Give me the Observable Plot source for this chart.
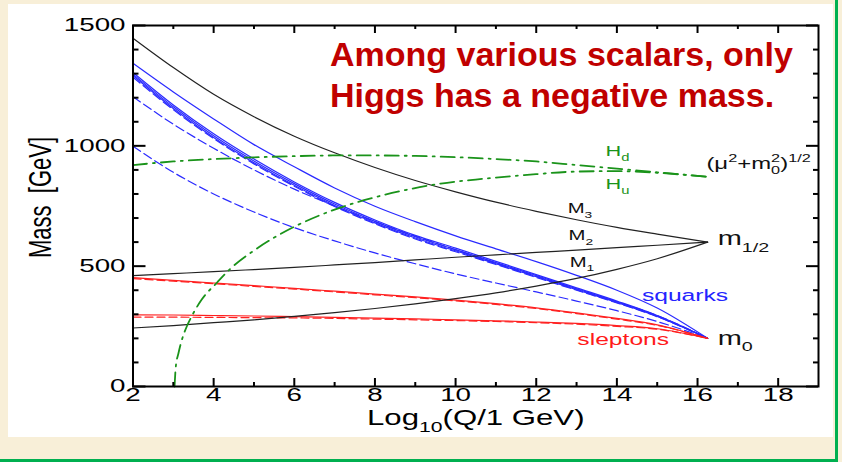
<!DOCTYPE html>
<html><head><meta charset="utf-8">
<script src="https://cdn.jsdelivr.net/npm/d3@7"></script>
<script src="https://cdn.jsdelivr.net/npm/@observablehq/plot@0.6"></script>
<style>
html,body{margin:0;padding:0;background:#f8efd8;}
#wrap{position:relative;width:842px;height:462px;overflow:hidden;background:#f8efd8;}
#panel{position:absolute;left:8px;top:4px;width:825px;height:433px;background:#fff;}
#gv{position:absolute;left:835px;top:0;width:3px;height:462px;background:#00b050;}
#gh{position:absolute;left:0;top:459px;width:838px;height:3px;background:#00b050;}
#chart{position:absolute;left:0;top:0;}
.note{position:absolute;left:330px;color:#c00000;font-family:"Liberation Sans",Arial,sans-serif;font-weight:700;font-size:34px;line-height:38px;white-space:nowrap;}
</style></head>
<body>
<div id="wrap"><div id="panel"></div><div id="gv"></div><div id="gh"></div><div id="chart"></div>
<div class="note" style="top:35px">Among various scalars, only</div>
<div class="note" style="top:76px">Higgs has a negative mass.</div></div>
<script>
// ---- data ----
const Q = [2,3,4,5,6,7,8,9,10,11,12,13,14,15,16.25];
// gaugino masses
const M3 = [1447,1325,1214,1121,1040,971,910,856,809,766,728,693,661,633,600];
const M2 = [461,469,477,486,495,505,515,526,537,547,557,567,577,587,600];
const M1 = [243,253,265,277,291,307,324,343,365,389,417,449,487,531,600];
// squarks
const sqA  = [1343,1224,1112,1005,913,825,749,685,626,572,519,462,400,326,200];
const sqB1 = [1305,1170,1050,945,850,765,692,628,575,520,465,410,355,295,200];
const sqB2 = [1298,1162,1042,937,843,758,686,622,569,515,461,406,352,293,200];
const sqB3 = [1292,1155,1035,930,836,752,680,617,564,510,456,402,349,291,200];
const sqC  = [1285,1150,1030,925,832,748,676,613,560,507,453,400,347,290,200];
const sqD  = [1204,1090,990,900,820,750,685,625,568,512,458,405,352,295,200];
const sqE  = [998,890,800,725,660,605,555,510,468,430,393,355,315,270,200];
// sleptons
const slUp  = [452,441,430,419,408,396,384,372,359,344,327,306,283,256,200];
const slUpD = [448,438,427,416,405,393,381,369,356,341,324,303,280,254,200];
const slLo  = [298,297,295,293,290,287,284,281,277,273,268,262,253,240,200];
const slLoD = [288,288,287,286,285,283,280,277,274,270,265,259,250,238,200];
// Higgs
const Hd = [920,935,945,952,957,960,960,958,953,945,935,920,905,890,871];
const HuQ = [3.03,3.06,3.13,3.2,3.3,3.45,3.7,4.09,4.42,5,5.99,7,7.73,8.72,9.63,10.5,11.7,13,14,15,16.25];
const Hu  = [0,80,140,187,236,290,360,433,490,565,663,735,774,815,843,860,878,893,895,888,871];
// ticks
const xMajor = [2,4,6,8,10,12,14,16,18];
const xMinor = [3,5,7,9,11,13,15,17];
const yMajor = [0,500,1000,1500];
const yMinor = [100,200,300,400,600,700,800,900,1100,1200,1300,1400];
// annotations
const labText  = ["M_{3}","M_{2}","M_{1}","m_{1/2}","m_{0}","squarks","sleptons","H_{d}","H_{u}","(μ^{2}+m^{2}_{0})^{1/2}"];
const labX     = [12.78,12.8,12.83,16.5,16.5,14.62,13.02,13.72,13.72,16.22];
const labY     = [738,626,517,614,201,379,195,978,840,925];
const labColor = ["#111","#111","#111","#111","#111","#2424ff","#ff1a1a","#1a931a","#1a931a","#111"];
const labSize  = [14,14,14,20,20,17,17,15,15,16.5];

const S_TICK = 1.5, S_LAB = 1.45; // horizontal stretch of the original picture's lettering

const W = 842, H = 462, mL = 132.5, mR = 24, mT = 25, mB = 76;
const XD = [2,19], YD = [0,1500];
const PX = (W-mL-mR)/(XD[1]-XD[0]);   // pixels per x unit
const PY = (H-mT-mB)/(YD[1]-YD[0]);   // pixels per y unit

function rows(name, xs, ys){ return xs.map((x,i)=>({name, x, m: ys[i]})); }
const blackRows = [...rows("M3",Q,M3),...rows("M2",Q,M2),...rows("M1",Q,M1)];
const blueSolid = [...rows("a",Q,sqA),...rows("b1",Q,sqB1),...rows("b2",Q,sqB2),...rows("b3",Q,sqB3)];
const blueDash  = [...rows("c",Q,sqC),...rows("d",Q,sqD),...rows("e",Q,sqE)];
const redSolid  = [...rows("u",Q,slUp),...rows("l",Q,slLo)];
const redDash   = [...rows("ud",Q,slUpD),...rows("ld",Q,slLoD)];
const greenRows = [...rows("Hd",Q,Hd),...rows("Hu",HuQ,Hu)];

const lineOpts = {x:"x", y:"m", z:"name", curve:"monotone-x"};
const labelMarks = labText.map((t,i)=>Plot.text([t], {x:()=>labX[i], y:()=>labY[i], text:d=>d, fill:labColor[i], fontSize:labSize[i], textAnchor:"start", lineAnchor:"middle"}));

// inward ticks (length in pixels converted to data units)
const tickX = (vals, len, side) => Plot.ruleX(vals, {x:d=>d, y1: side==="b" ? YD[0] : YD[1], y2: side==="b" ? YD[0]+len/PY : YD[1]-len/PY, stroke:"black", strokeWidth:2});
const tickY = (vals, len, side) => Plot.ruleY(vals, {y:d=>d, x1: side==="l" ? XD[0] : XD[1], x2: side==="l" ? XD[0]+len/PX : XD[1]-len/PX, stroke:"black", strokeWidth:2});

const chart = Plot.plot({
  width:W, height:H,
  marginLeft:mL, marginRight:mR, marginTop:mT, marginBottom:mB,
  x:{domain:XD}, y:{domain:YD},
  style:{background:"transparent", fontFamily:"'Liberation Sans', Arial, sans-serif", color:"black", overflow:"visible"},
  marks:[
    Plot.line(blueDash, {...lineOpts, stroke:"#2a2aff", strokeWidth:1.2, strokeDasharray:"9,4"}),
    Plot.line(blueSolid, {...lineOpts, stroke:"#2a2aff", strokeWidth:1.2}),
    Plot.line(redDash, {...lineOpts, stroke:"#ff2020", strokeWidth:1.2, strokeDasharray:"8,4"}),
    Plot.line(redSolid, {...lineOpts, stroke:"#ff2020", strokeWidth:1.2}),
    Plot.line(blackRows, {...lineOpts, stroke:"#222", strokeWidth:1.2}),
    Plot.line(greenRows, {...lineOpts, stroke:"#1a931a", strokeWidth:1.8, strokeDasharray:"14,6,2,6"}),
    Plot.frame({stroke:"black", strokeWidth:2}),
    tickX(xMajor, 8, "b"), tickX(xMinor, 4, "b"),
    tickX(xMajor, 8, "t"), tickX(xMinor, 4, "t"),
    tickY(yMajor, 13, "l"), tickY(yMinor, 6, "l"),
    tickY(yMajor, 12, "r"), tickY(yMinor, 5, "r"),
    // tick labels
    Plot.axisX(xMajor, {anchor:"bottom", tickSize:0, tickPadding:1, fontSize:18.5, tickFormat:d=>String(d), label:null}),
    Plot.axisY(yMajor, {anchor:"left", tickSize:0, tickPadding:7.5, fontSize:18.5, tickFormat:d=>String(d), label:null}),
    // axis titles
    Plot.text(["Mass  [GeV]"], {frameAnchor:"left", textAnchor:"middle", lineAnchor:"middle", dx:-92.5, dy:-8.5, rotate:-90, fontSize:22}),
    Plot.text(["Log_{10}(Q/1 GeV)"], {frameAnchor:"bottom", textAnchor:"middle", lineAnchor:"middle", dy:31.5, fontSize:21.5}),
    ...labelMarks
  ]
});
document.getElementById("chart").appendChild(chart);

// rich text: _{sub} and ^{sup}
const NS = "http://www.w3.org/2000/svg";
chart.querySelectorAll("text").forEach(t => {
  const s = t.textContent;
  if (!/[_^]\{/.test(s)) return;
  const fs = parseFloat(getComputedStyle(t).fontSize);
  t.textContent = "";
  const re = /([_^])\{([^}]*)\}|([^_^]+)/g;
  let mt, shift = 0, prev = null;
  while ((mt = re.exec(s))) {
    const ts = document.createElementNS(NS, "tspan");
    let target;
    if (mt[3] !== undefined) { ts.textContent = mt[3]; target = 0; prev = null; }
    else {
      ts.textContent = mt[2];
      ts.setAttribute("font-size", (0.68*fs).toFixed(2));
      target = mt[1] === "_" ? 0.32*fs : -0.42*fs;
      if (mt[1] === "_" && prev && prev.type === "^") ts.setAttribute("dx", (-0.556*0.68*fs*prev.len).toFixed(2));
      prev = {type: mt[1], len: mt[2].length};
    }
    const dy = target - shift;
    if (dy) ts.setAttribute("dy", dy.toFixed(2));
    shift = target;
    t.appendChild(ts);
  }
});
// reproduce the horizontal stretch of the original figure's lettering
chart.querySelectorAll("text").forEach(t => {
  const g = t.closest("g[aria-label]");
  const isTick = g && /tick label/.test(g.getAttribute("aria-label"));
  const S = isTick ? S_TICK : S_LAB;
  const tr = t.getAttribute("transform") || "";
  const rot = /rotate/.test(tr);
  t.setAttribute("transform", tr + (rot ? ` scale(1,${S})` : ` scale(${S},1)`));
});
</script>
</body></html>
